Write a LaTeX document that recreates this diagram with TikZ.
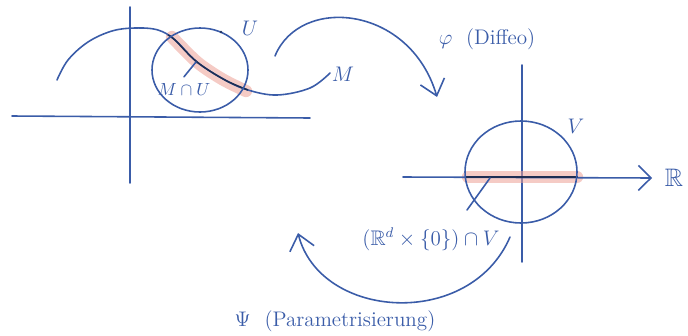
\documentclass[tikz,border=0pt]{standalone}
\usepackage{xcolor}
\usepackage{tikz}
\usetikzlibrary{arrows.meta}
\usepackage{amssymb}
\definecolor{ink}{RGB}{58,92,168}
\definecolor{marker}{RGB}{236,160,150}

\begin{document}
\begin{tikzpicture}[x=0.02cm, y=-0.02cm,
  pen/.style={ink, line width=0.9pt, line cap=round},
  hl/.style={marker, opacity=0.55, line width=7pt, line cap=round},
  lab/.style={ink, font=\large}]
\useasboundingbox (0,0) rectangle (688,335);
% left picture: M and chart domain U
\draw[pen] (130,7) -- (130,183);
\draw[pen] (12,116) -- (310,118);
\draw[hl] plot[smooth] coordinates {(172,37) (197,62) (222,79) (246,91)};
\draw[pen] plot[smooth, tension=0.6] coordinates {(57,80) (68,60) (88,42) (112,31) (135,28) (158,30) (175,40) (197,62) (225,80) (248,90) (277,95) (310,88) (330,73)};
\draw[ink!50!black, line width=0.9pt] plot[smooth, tension=0.6] coordinates {(168,35) (175,40) (197,62) (225,80) (248,90)};
\draw[pen] (200,70) ellipse (48 and 42);
\fill[ink!60!black] (221,32) circle (1.3);
\coordinate (mudot) at (196,62);
\fill[ink!50!black] (mudot) circle (1.5);
\node[lab] (U) at (250,28) {$U$};
\node[lab] (M) at (343,74) {$M$};
\node[lab, font=\normalsize] (MnU) at (184,89) {$M\cap U$};
\draw[pen] (MnU.north) -- (mudot);
% right picture: V in R^n
\draw[pen] (522,65) -- (522,262);
\draw[hl] (468,177) -- (577,177);
\draw[pen, -{Straight Barb[length=2.5mm, width=5mm]}] (403,177) -- (652,178);
\draw[ink!50!black, line width=0.9pt] (466,177) -- (578,177);
\draw[pen] (521,172) ellipse (56 and 51);
\node[lab, font=\Large] (R) at (674,178) {$\mathbb{R}$};
\node[lab] (V) at (576,126) {$V$};
\node[lab] (slice) at (431,239) {$(\mathbb{R}^d\times\{0\})\cap V$};
\coordinate (slicept) at (490,178);
\draw[pen] (467,210) -- (slicept);
% chart maps
\coordinate (phistart) at (275,56);
\coordinate (phiend) at (437,97);
\draw[pen, -{Straight Barb[length=3mm, width=5mm]}] (phistart) .. controls (300,-5) and (410,5) .. (phiend);
\node[lab] (phi) at (487,39) {$\varphi$ \ (Diffeo)};
\coordinate (psistart) at (510,237);
\coordinate (psiend) at (298,233);
\draw[pen, -{Straight Barb[length=3mm, width=5mm]}] (psistart) .. controls (470,330) and (320,320) .. (psiend);
\node[lab] (psi) at (335,321) {$\Psi$ \ (Parametrisierung)};
\end{tikzpicture}
\end{document}
